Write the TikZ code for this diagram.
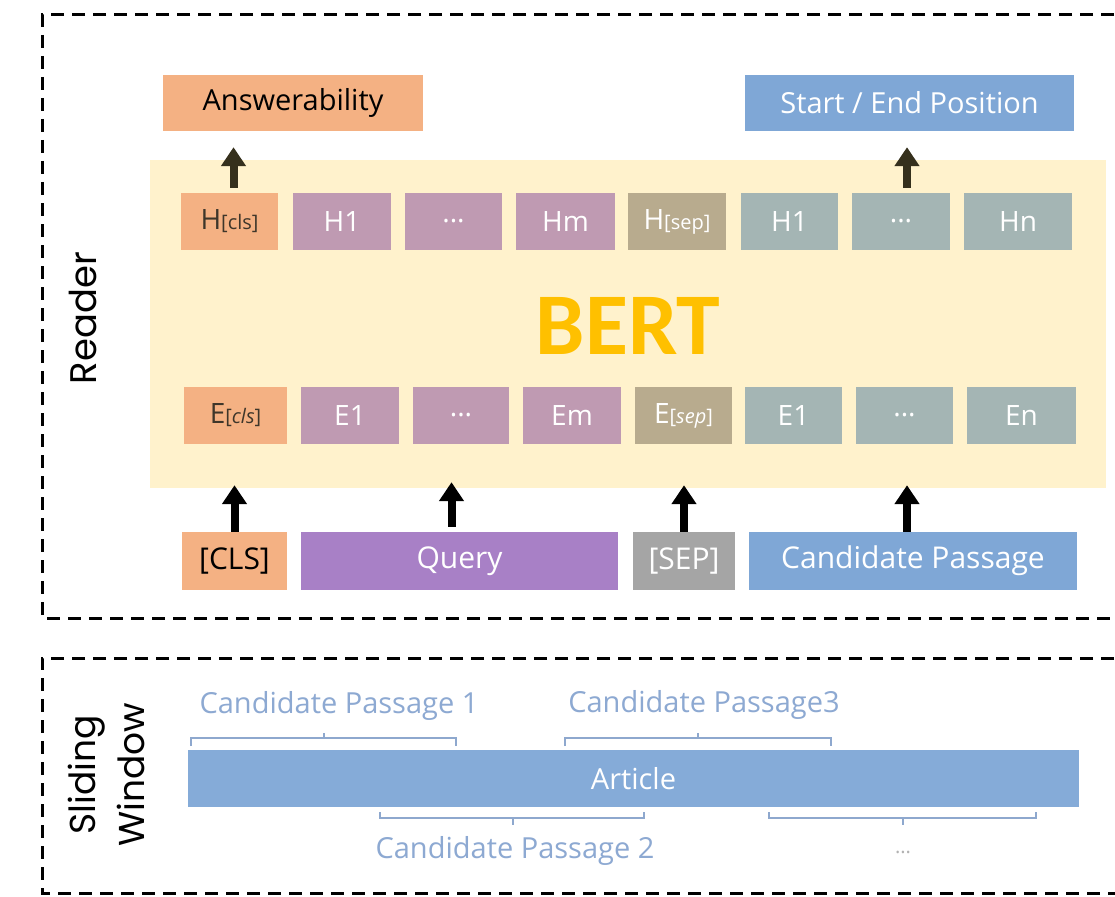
\documentclass[tikz,border=0pt]{standalone}
\usepackage{fontspec}
\setmainfont{Open Sans}
\newfontfamily\gothic{Poppins}
\newfontfamily\bertfont{Carlito}
\usetikzlibrary{arrows.meta}
\definecolor{orng}{HTML}{F4B183}
\definecolor{blu}{HTML}{7FA7D6}
\definecolor{mauve}{HTML}{BF9AB2}
\definecolor{khaki}{HTML}{B8AB8E}
\definecolor{teal}{HTML}{A4B5B4}
\definecolor{qpurple}{HTML}{A880C6}
\definecolor{sgray}{HTML}{A5A5A5}
\definecolor{bertbg}{HTML}{FFF2CC}
\definecolor{bertfg}{HTML}{FFC000}
\definecolor{darkarr}{HTML}{35301C}
\definecolor{brc}{HTML}{8EA8CE}
\definecolor{lbl}{HTML}{8DA9D2}
\definecolor{dtxt}{HTML}{3E362A}
\newcommand{\fs}[1]{\fontsize{#1pt}{#1pt}\selectfont}
\newcommand{\sbs}[1]{{\fs{20}#1}}
\begin{document}
\begin{tikzpicture}[x=1pt,y=-1pt,
  tok/.style={minimum height=57pt, inner sep=0pt, text=white, font=\fs{28}},
  otok/.style={tok, fill=orng, text=dtxt},
  mtok/.style={tok, fill=mauve},
  ktok/.style={tok, fill=khaki},
  ttok/.style={tok, fill=teal},
  inbox/.style={minimum height=58pt, inner sep=0pt, text=white, font=\fs{30}},
  frame/.style={draw=black, line width=3pt, dash pattern=on 13pt off 8pt},
  upar/.style={line width=8pt, -{Triangle[width=24pt,length=19pt]}},
  brace/.style={draw=brc, line width=1.2pt},
  plabel/.style={text=lbl, font=\fs{29}, inner sep=0pt}
]
\useasboundingbox (0,0) rectangle (1115,896);
\fill[white] (0,0) rectangle (1115,896);

% frames
\draw[frame] (1135,15) -- (42,15) -- (42,618) -- (1135,618);
\draw[frame] (1135,658) -- (42,658) -- (42,893) -- (1135,893);

\node[rotate=90, font=\gothic\fs{37}, inner sep=0pt] (reader) at (83,318) {Reader};
\node[rotate=90, font=\gothic\fontsize{36pt}{49pt}\selectfont, align=center, inner sep=0pt] (sw) at (106,775) {Sliding\\Window};

% BERT block
\node[fill=bertbg, minimum width=956pt, minimum height=328pt, inner sep=0pt] (bert) at (628,324) {};
\node[text=bertfg, font=\bertfont\bfseries\fs{88}, inner sep=0pt] (berttxt) at (628,326) {BERT};

% outputs
\node[fill=orng, minimum width=260pt, minimum height=56pt, inner sep=0pt, font=\fs{29}] (ans) at (293,103) {Answerability};
\node[fill=blu, minimum width=329pt, minimum height=56pt, inner sep=0pt, font=\fs{29}, text=white] (se) at (909.5,103) {Start / End Position};

% H row
\node[otok, minimum width=97pt] (hcls) at (229.5,221.5) {H\sbs{[cls]}};
\node[mtok, minimum width=98pt] (hq1) at (342,221.5) {H1};
\node[mtok, minimum width=97pt] (hqd) at (453.5,221.5) {...};
\node[mtok, minimum width=99pt] (hqm) at (565.5,221.5) {Hm};
\node[ktok, minimum width=98pt] (hsep) at (677,221.5) {H\sbs{[sep]}};
\node[ttok, minimum width=97pt] (hp1) at (789.5,221.5) {H1};
\node[ttok, minimum width=98pt] (hpd) at (901,221.5) {...};
\node[ttok, minimum width=108pt] (hpn) at (1018,221.5) {Hn};

% E row
\node[otok, minimum width=103pt] (ecls) at (235.5,415.5) {E\sbs{[\itshape cls\upshape]}};
\node[mtok, minimum width=98pt] (eq1) at (350,415.5) {E1};
\node[mtok, minimum width=96pt] (eqd) at (461,415.5) {...};
\node[mtok, minimum width=98pt] (eqm) at (572,415.5) {Em};
\node[ktok, minimum width=97pt] (esep) at (683.5,415.5) {E\sbs{[\itshape sep\upshape]}};
\node[ttok, minimum width=97pt] (ep1) at (793.5,415.5) {E1};
\node[ttok, minimum width=97pt] (epd) at (904.5,415.5) {...};
\node[ttok, minimum width=109pt] (epn) at (1021.5,415.5) {En};

% inputs
\node[inbox, fill=orng, text=black, minimum width=105pt] (cls) at (234.5,561) {[CLS]};
\node[inbox, fill=qpurple, minimum width=317pt] (query) at (459.5,561) {Query};
\node[inbox, fill=sgray, minimum width=102pt] (sep) at (684,561) {[SEP]};
\node[inbox, fill=blu, minimum width=328pt] (cand) at (913,561) {Candidate Passage};

% arrows
\draw[upar, draw=darkarr, fill=darkarr, shorten <=5pt, shorten >=16pt] ([xshift=4pt]hcls.north) -- ([xshift=4pt]hcls.north |- ans.south);
\draw[upar, draw=darkarr, fill=darkarr, shorten <=5pt, shorten >=16pt] ([xshift=6pt]hpd.north) -- ([xshift=6pt]hpd.north |- se.south);
\draw[upar, shorten >=-3pt] (cls.north) -- (cls.north |- bert.south);
\draw[upar, shorten <=5pt, shorten >=-6pt] ([xshift=-8pt]query.north) -- ([xshift=-8pt]query.north |- bert.south);
\draw[upar, shorten >=-3pt] (sep.north) -- (sep.north |- bert.south);
\draw[upar, shorten >=-3pt] ([xshift=-6pt]cand.north) -- ([xshift=-6pt]cand.north |- bert.south);

% sliding window
\node[fill=blu!95!white, minimum width=891pt, minimum height=57pt, inner sep=0pt, text=white, font=\fs{29}] (article) at (633.5,778.5) {Article};

\draw[brace] (191,746) -- (191,738) -- (456,738) -- (456,746) (324,738) -- (324,733);
\draw[brace] (565,746) -- (565,738) -- (831,738) -- (831,746) (698,738) -- (698,733);
\draw[brace] (380,812) -- (380,818) -- (644,818) -- (644,812) (513,818) -- (513,825);
\draw[brace] (769,812) -- (769,818) -- (1036,818) -- (1036,812) (903,818) -- (903,825);

\node[plabel] (cp1) at (339,706) {Candidate Passage 1};
\node[plabel] (cp3) at (704,705) {Candidate Passage3};
\node[plabel] (cp2) at (515,851) {Candidate Passage 2};
\node[text=gray!60, font=\fs{20}, inner sep=0pt] (cpn) at (903,852) {...};
\end{tikzpicture}
\end{document}
